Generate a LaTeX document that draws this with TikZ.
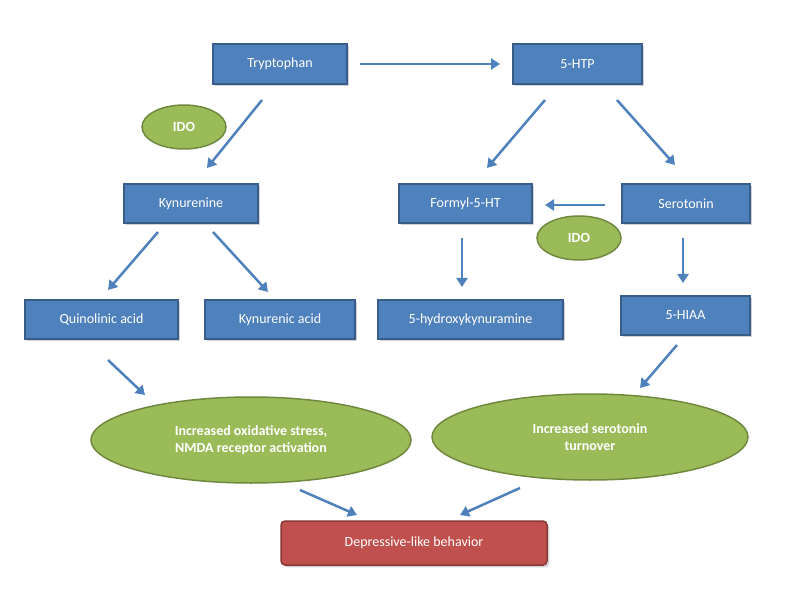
\documentclass[tikz,border=0pt]{standalone}
\usepackage{fontspec}
\setmainfont{Carlito}
\usetikzlibrary{arrows.meta,shadows,shapes.geometric}
\definecolor{bfill}{HTML}{4F81BD}
\definecolor{bdraw}{HTML}{385D8A}
\definecolor{gfill}{HTML}{9BBB59}
\definecolor{gdraw}{HTML}{71893F}
\definecolor{rfill}{HTML}{C0504D}
\definecolor{rdraw}{HTML}{8C3836}
\definecolor{arr}{HTML}{4F81BD}
\begin{document}
\begin{tikzpicture}[x=1pt,y=-1pt,
  box/.style={draw=bdraw,line width=1.5pt,fill=bfill,text=white,font=\fontsize{14}{16}\selectfont,drop shadow={opacity=0.35}},
  ell/.style={ellipse,draw=gdraw,line width=1.5pt,fill=gfill,text=white,font=\bfseries\fontsize{14}{17}\selectfont,align=center,inner sep=0pt},
  ar/.style={draw=arr,line width=2.5pt,-{Triangle[length=9pt,width=11pt]}}]
\useasboundingbox (0,0) rectangle (792,593);
\def\bx#1#2#3#4#5#6{\node[box,minimum width=#4-#2,minimum height=#5-#3] (#1) at ({(#2+#4)/2},{(#3+#5)/2}) {#6};}
\bx{tryp}{213}{44}{347}{84}{Tryptophan}
\bx{htp}{513}{44}{642}{84}{5-HTP}
\bx{kyn}{124}{184}{258}{223}{Kynurenine}
\bx{form}{399}{184}{532}{223}{Formyl-5-HT}
\bx{ser}{622}{184}{750}{223}{Serotonin}
\bx{quin}{25}{300}{178}{339}{Quinolinic acid}
\bx{kyna}{205}{300}{355}{339}{Kynurenic acid}
\bx{hk}{378}{300}{563}{339}{5-hydroxykynuramine}
\bx{hiaa}{621}{296}{750}{335}{5-HIAA}
\node[ell,minimum width=84pt,minimum height=44pt] (ido1) at (184,127) {IDO};
\node[ell,minimum width=84pt,minimum height=44pt] (ido2) at (579,238) {IDO};
\node[ell,minimum width=320pt,minimum height=86pt] (e1) at (251,440) {Increased oxidative stress,\\NMDA receptor activation};
\node[ell,minimum width=316pt,minimum height=86pt] (e2) at (590,437) {Increased serotonin\\turnover};
\node[draw=rdraw,line width=1.5pt,fill=rfill,rounded corners=4pt,text=white,font=\fontsize{14}{16}\selectfont,minimum width=266pt,minimum height=44pt,drop shadow={opacity=0.35}] (dep) at (414,543) {Depressive-like behavior};
\foreach \n/\a/\b/\c/\d in {a1/360/64/500/64,a2/262/100/207/168,a3/545/100/487/168,a4/617/100/675/165,a5/605/205/545/205,a6/158/232/108/290,a7/213/232/268/292,a8/462/238/462/287,a9/683/238/683/283,a10/108/360/145/395,a11/677/345/640/388,a12/300/490/357/515,a13/520/488/460/515}{
  \coordinate (\n s) at (\a,\b); \coordinate (\n e) at (\c,\d);
  \draw[ar] (\n s) -- (\n e);}
\end{tikzpicture}
\end{document}
